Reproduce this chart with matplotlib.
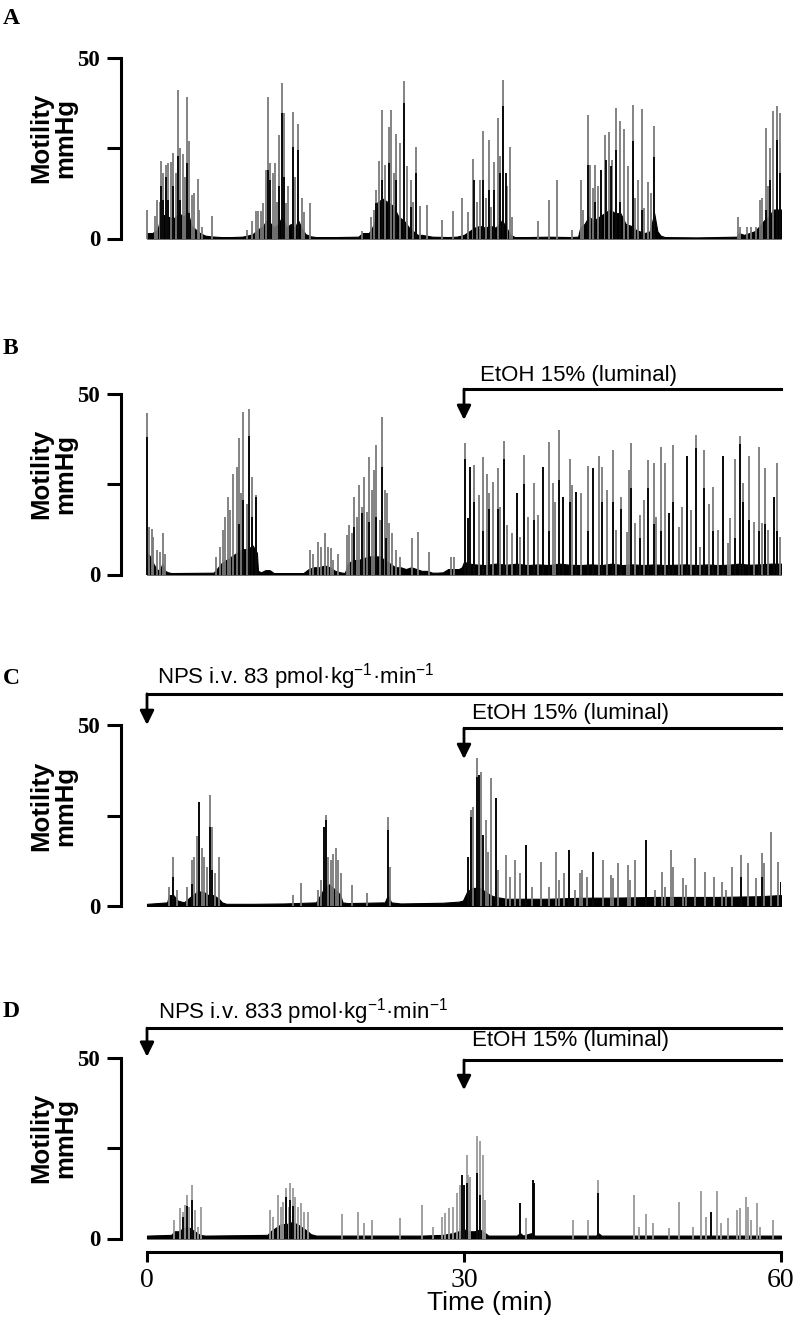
import matplotlib
matplotlib.use('Agg')
import matplotlib.pyplot as plt

plt.rcParams['font.family'] = ['Liberation Sans', 'DejaVu Sans']
plt.rcParams['mathtext.fontset'] = 'custom'
plt.rcParams['mathtext.rm'] = 'Liberation Sans'
plt.rcParams['mathtext.default'] = 'regular'

# ---------------- data (time in min, pressure in mmHg) ----------------
A_base = [(0, 1.5), (0.5, 1.5), (1.0, 2.5), (1.3, 6), (1.6, 6.5), (2.0, 6), (2.5, 5.5), (3.0, 7), (3.5, 6), (3.8, 8),
          (4.2, 3.5), (4.6, 2.5), (5.0, 1.5), (5.5, 0.8), (6.0, 0.6), (7.0, 0.4), (8.0, 0.4), (9.0, 0.5), (9.5, 0.8),
          (10.0, 1.2), (10.5, 2.5), (11.0, 3.5), (11.3, 5), (11.6, 4.5), (12.0, 3), (12.4, 4), (12.8, 6), (13.2, 3),
          (13.6, 4), (14.0, 3), (14.3, 5), (14.7, 2.5), (15.0, 1.2), (15.5, 0.6), (16.0, 0.4), (18.0, 0.4), (20.0, 0.5),
          (20.4, 1.5), (21.0, 1.5), (21.5, 4), (21.8, 10), (22.3, 11), (22.8, 10), (23.3, 9), (23.8, 6), (24.3, 5),
          (24.8, 3), (25.2, 2), (25.6, 1), (26.0, 1), (27.0, 0.5), (28.5, 0.4), (29.3, 0.5), (30.0, 1), (30.5, 2),
          (31.0, 3), (31.5, 3.5), (32.0, 3), (32.5, 3.5), (33.0, 3), (33.6, 5), (34.0, 3), (34.4, 1), (34.8, 0.4),
          (36, 0.4), (38, 0.5), (40.0, 0.4), (40.8, 0.5), (41.0, 3), (41.4, 4), (41.8, 6), (42.3, 5), (42.8, 6),
          (43.3, 7), (43.8, 8), (44.3, 7), (44.8, 7), (45.3, 4), (45.8, 3.5), (46.2, 2.5), (46.6, 2), (47.1, 1.5),
          (47.6, 2), (48.0, 7), (48.3, 2), (48.6, 0.8), (49.0, 0.4), (52, 0.3), (55.8, 0.5), (56.0, 1.5), (56.5, 1),
          (57.0, 1.5), (57.5, 2), (58.0, 3.5), (58.4, 5), (58.8, 6), (59.3, 8), (59.7, 8), (60.0, 8)]
A_spikes = [(0.03, 7.9), (0.76, 6.2), (0.98, 10.7), (1.23, 10.2), (1.32, 21.5), (1.55, 18), (1.77, 20.4), (2.02, 20.8),
            (2.27, 21), (2.49, 23.6), (2.71, 18), (2.97, 41.1), (3.15, 25), (3.38, 23.4), (3.6, 17.1), (3.79, 39.1),
            (3.97, 26.8), (4.23, 12), (4.45, 12.5), (4.83, 16.5), (4.95, 7.9), (5.2, 3.3), (6.12, 6.1),
            (9.46, 2.4), (9.9, 4.7), (10.3, 7.7), (10.5, 7.7), (10.8, 7.7), (11.0, 9.7), (11.23, 19), (11.45, 39.1),
            (11.64, 20.8), (11.9, 18), (12.15, 20.8), (12.33, 10.2), (12.52, 28.7), (12.74, 43), (12.93, 34.7),
            (13.15, 9.7), (13.37, 14.4), (13.78, 34.9), (14.0, 17.1), (14.32, 31.7), (14.64, 11.1), (14.86, 7.4),
            (15.43, 9.9), (20.3, 2), (21.2, 6), (21.5, 8), (21.7, 13.4), (22.0, 21.5), (22.2, 35.6), (22.5, 20.4),
            (22.9, 30.8), (23.1, 35.6), (23.35, 18), (23.6, 29), (23.94, 26.3), (24.32, 43.6), (24.57, 19.9),
            (24.95, 16.2), (25.14, 10.2), (25.46, 25.4), (25.84, 9), (26.47, 9.3), (27.9, 5.1), (29.0, 7.6),
            (29.84, 11.1), (30.4, 7.4), (30.83, 21.9), (31.2, 10.2), (31.5, 16.2), (31.83, 29.6), (32.1, 11.1),
            (32.33, 27.3), (32.6, 8.8), (32.87, 21), (33.25, 33.3), (33.4, 22.7), (33.66, 43.7), (34.04, 14.4),
            (34.4, 25.4), (34.5, 6), (37.0, 4.7), (38.04, 10.7), (38.77, 16.2), (40.25, 2.4),
            (41.07, 16.2), (41.3, 7.9), (41.77, 34.2), (41.93, 20.4), (42.18, 13.9), (42.4, 20.4), (42.65, 14.4),
            (42.97, 19), (43.35, 28.7), (43.76, 29.3), (43.98, 21.7), (44.35, 36.1), (44.76, 32.4), (45.17, 30.2),
            (45.55, 19.9), (45.96, 37), (46.18, 11.1), (46.5, 16.2), (46.88, 35.8), (47.07, 8.4), (47.42, 15.7),
            (47.67, 12.5), (48.01, 31), (55.9, 6), (56.1, 3.3), (56.75, 3.1), (57.2, 3.3), (57.6, 3.3), (58.0, 10.7),
            (58.2, 11.1), (58.58, 30.5), (58.8, 14.4), (59.0, 25), (59.2, 35.1), (59.66, 36.5), (59.9, 34.7)]
A_dark = [(1.32, 14.4), (1.55, 10.7), (1.8, 17.1), (2.02, 10.7), (2.49, 14.4), (2.97, 22.7), (3.15, 10.7),
          (3.79, 20.8), (3.97, 7), (11.45, 19), (11.64, 16.2), (12.52, 14.4), (12.74, 34.7), (12.93, 17.1),
          (13.78, 25.4), (14.32, 24.5), (21.7, 9.7), (22.2, 16.2), (22.9, 20.8), (23.6, 16.2), (24.32, 37.4),
          (24.95, 8.8), (25.46, 18), (30.95, 16.2), (31.77, 16.2), (32.4, 13.4), (32.87, 13.4), (33.4, 18),
          (33.72, 36.5), (34.0, 18), (41.77, 20.4), (42.4, 10), (42.97, 19), (43.4, 21.7), (43.9, 19.9),
          (44.35, 24.5), (44.8, 10), (45.96, 26.8), (46.88, 8), (48.01, 22.6), (58.58, 8), (59.0, 16.2),
          (59.66, 27.3), (59.9, 18)]

B_base = [(0, 6), (0.3, 5), (0.6, 3), (0.9, 1.5), (1.2, 1), (1.45, 3), (1.7, 1), (2.0, 0.6), (2.3, 0.4), (6.3, 0.5),
          (6.6, 1.5), (7.0, 3), (7.5, 4), (8.0, 5), (8.5, 6), (9.0, 7), (9.5, 7), (10.0, 8), (10.4, 6), (10.5, 1),
          (10.8, 0.6), (11.2, 1.2), (11.6, 1.2), (12.0, 0.4), (14.8, 0.4), (15.3, 1.5), (15.8, 2), (16.3, 2),
          (16.8, 2.5), (17.3, 2), (17.8, 1), (18.3, 0.6), (18.7, 0.4), (18.8, 1), (19.0, 3), (19.5, 4), (20, 4),
          (20.5, 4.5), (21, 5), (21.5, 5), (22, 5), (22.5, 4), (23, 3), (23.5, 2), (24, 2), (24.5, 1.5), (25, 2),
          (25.5, 1.5), (26, 1), (26.5, 1), (27, 0.5), (27.5, 0.5), (28, 0.6), (28.5, 1.5), (29, 1.5), (29.5, 1.5),
          (29.8, 2), (30.0, 3.5), (30.5, 3), (31, 2.8), (32, 2.6), (33, 3), (34, 2.7), (35, 3), (36, 2.6), (37, 2.8),
          (38, 2.6), (39, 3), (40, 2.7), (41, 2.6), (42, 2.8), (43, 2.6), (44, 3), (45, 2.6), (46, 2.8), (47, 2.6),
          (48, 2.8), (49, 2.6), (50, 2.7), (51, 2.8), (52, 2.6), (53, 2.8), (54, 2.6), (55, 2.7), (56, 3), (57, 2.7),
          (58, 2.8), (59, 3), (60, 3)]
B_spikes = [(0.0, 44.5), (0.22, 13.2), (0.44, 12.7), (0.6, 10.4), (0.9, 6.8), (1.2, 6.3), (1.48, 11.4), (1.7, 5.8),
            (6.53, 4.9), (6.9, 7.7), (7.16, 12.3), (7.4, 16), (7.7, 21.5), (7.86, 17.8), (8.17, 27.9), (8.49, 29.8),
            (8.68, 37.6), (8.86, 22.4), (9.12, 44.9), (9.43, 19.6), (9.68, 45.7), (9.94, 27), (10.32, 21.9),
            (15.43, 6.8), (15.74, 5.8), (16.2, 9.1), (16.5, 7.7), (16.85, 11.4), (17.16, 7.7), (17.4, 7.2), (17.6, 4),
            (18.1, 5.8), (18.9, 10.9), (19.15, 13.7), (19.37, 11.4), (19.62, 21.5), (19.84, 16), (20.06, 24.7),
            (20.3, 18.7), (20.5, 27), (20.8, 17.3), (21.0, 32.5), (21.26, 23.3), (21.5, 28.8), (21.7, 35.7),
            (22.05, 15), (22.27, 43.5), (22.5, 23.3), (22.68, 22.4), (22.93, 14.1), (23.15, 11.4), (23.6, 6.8),
            (23.95, 4.9), (25.05, 10), (25.6, 11.8), (26.7, 6.3), (28.8, 4.9), (29.1, 4.9),
            (30.1, 36.2), (30.4, 15.5), (30.6, 29.7), (30.95, 30.2), (31.45, 21.9), (31.83, 32.5), (32.2, 27.9),
            (32.4, 22.4), (32.7, 25.6), (33.2, 29.3), (33.4, 18.7), (33.8, 36.8), (34.1, 13.7), (34.5, 11.4),
            (35.05, 22.4), (35.3, 10.4), (35.7, 33), (36.1, 16), (36.6, 25.2), (37.0, 16.4), (37.5, 29.8), (38.0, 36.7),
            (38.4, 25.2), (38.6, 20.1), (39.0, 39.9), (39.4, 21.5), (40.0, 31.8), (40.2, 24.7), (40.6, 22.9),
            (41.1, 22.4), (41.7, 29.9), (42.2, 29.3), (42.8, 32.7), (43.1, 29.8), (43.5, 23.3), (44.07, 34.4),
            (44.4, 12.3), (44.9, 21.5), (45.4, 11.8), (45.65, 28.8), (45.8, 36.2), (46.2, 14.1), (46.66, 16.4),
            (47.07, 20.6), (47.45, 31.6), (48.0, 30.7), (48.2, 16), (48.65, 35.3), (49.0, 30.7), (49.4, 16.9),
            (49.8, 35.7), (50.3, 13.2), (50.6, 18.7), (51.07, 32.7), (51.45, 17.8), (51.96, 38.5), (52.3, 7.7),
            (52.7, 34.4), (53.2, 19.6), (53.6, 24.2), (54.07, 12.3), (54.5, 32.7), (55.0, 8.6), (55.2, 15.5),
            (55.65, 32), (56.1, 38.2), (56.4, 25.2), (57.0, 32.7), (57.4, 14.6), (57.9, 35.3), (58.2, 14.1),
            (58.5, 29.3), (58.8, 12.3), (59.3, 21.5), (59.6, 30.7), (59.9, 10.4)]
B_dark = [(0.0, 38), (8.68, 14), (9.12, 20.5), (9.68, 38.2), (9.94, 15.9), (10.32, 21.5), (19.62, 13.2), (20.3, 16.9),
          (21.0, 14.6), (21.7, 16), (22.27, 29.8), (22.6, 10), (30.1, 32), (30.4, 15.5), (30.6, 29.7), (30.95, 20),
          (31.83, 12), (32.4, 18), (33.2, 18), (33.8, 32), (35.05, 22.4), (35.7, 25), (36.6, 15), (37.5, 29.8),
          (38.0, 12), (39.0, 26), (39.4, 21.5), (40.0, 20), (40.6, 22.9), (41.7, 12), (42.2, 29.3), (43.1, 20),
          (44.07, 20), (44.9, 18), (45.8, 24), (46.66, 10), (47.45, 24), (48.0, 14), (48.65, 12), (49.4, 16.9),
          (49.8, 20), (51.07, 32.7), (51.96, 35), (52.7, 24), (53.6, 12), (54.5, 32.7), (55.65, 10), (56.1, 36),
          (56.4, 20), (57.0, 15), (57.9, 12), (58.5, 14), (59.3, 21.5), (59.6, 12)]

C_base = [(0, 0.6), (1, 0.8), (1.9, 1), (2.1, 3), (2.5, 3), (2.9, 1.5), (3.5, 1), (3.9, 2), (4.3, 3), (4.8, 4), (5.3, 4),
          (5.8, 3), (6.3, 3), (6.8, 2), (7.1, 1), (7.5, 0.6), (10, 0.6), (13, 0.7), (16.0, 1), (16.4, 3), (16.8, 5),
          (17.2, 6), (17.6, 5), (18.0, 4), (18.3, 3), (18.5, 1), (19, 0.8), (22.5, 1), (22.8, 3), (23.1, 1), (24, 0.7),
          (26, 0.8), (28, 0.9), (29.5, 1.2), (29.9, 1.5), (30.3, 4), (30.8, 5), (31.5, 5), (32, 4), (32.5, 3),
          (33, 2.5), (34, 2), (36, 2), (38, 2), (40, 2.2), (42, 2.3), (44, 2.3), (46, 2.4), (48, 2.5), (50, 2.5),
          (52, 2.5), (54, 2.5), (56, 2.6), (58, 2.7), (59.8, 3), (60, 3)]
C_spikes = [(2.08, 5.3), (2.5, 13.6), (2.8, 4.4), (3.8, 5.3), (4.3, 12.7), (4.48, 13.6), (4.7, 19.2), (4.92, 28.8),
            (5.17, 15.9), (5.43, 13.6), (5.65, 10.9), (5.96, 30.7), (6.18, 21.9), (6.43, 9), (6.8, 13.6),
            (13.85, 3), (14.6, 6.3), (16.2, 4.4), (16.5, 7.2), (16.75, 21.9), (16.94, 25.1), (17.16, 13.6),
            (17.4, 12.7), (17.6, 14.5), (17.85, 15.9), (18.1, 12.7), (18.33, 9), (19.37, 5.8), (20.8, 3.5),
            (22.84, 24.7), (23.0, 10.9), (30.4, 13.6), (30.63, 26.5), (30.82, 27.4), (31.2, 40.8), (31.43, 36.2),
            (31.6, 37.1), (31.8, 19.6), (32.05, 23.8), (32.3, 15), (32.6, 35.3), (33.0, 29.7), (33.25, 9.9),
            (33.98, 14.1), (34.4, 8.1), (34.8, 12.7), (35.3, 9), (35.9, 16.9), (36.4, 5.3), (37.3, 12.2), (38.0, 5.3),
            (38.7, 15), (39.0, 7.2), (39.5, 9), (39.9, 15.5), (40.5, 4.4), (41.0, 9), (41.2, 9.9), (41.6, 8.1),
            (42.2, 15), (43.2, 12.7), (43.9, 8.6), (44.07, 7.6), (44.6, 11.8), (45.56, 11.3), (45.7, 7.2),
            (46.2, 12.7), (47.2, 18.2), (48.07, 4.4), (48.7, 9.5), (49.0, 5.3), (49.56, 15.5), (49.8, 10.9),
            (50.7, 7.6), (51.0, 5.8), (51.86, 13.2), (52.8, 9.5), (53.7, 8.1), (54.45, 6.7), (54.8, 4.4),
            (55.4, 10.9), (56.2, 14.1), (56.9, 11.8), (57.6, 7.6), (58.2, 14.7), (58.4, 11.8), (59.1, 20.4),
            (59.75, 12.2), (59.97, 6.7)]
C_dark = [(2.5, 8.1), (4.3, 6), (4.92, 28.8), (5.96, 21.9), (6.18, 10), (16.75, 21.9), (16.94, 23.7), (22.84, 21),
          (30.4, 13.6), (30.63, 24.7), (31.2, 35.7), (31.43, 36.2), (31.8, 19.6), (33.0, 29.7), (35.9, 16.9),
          (39.9, 15.5), (42.2, 15), (47.2, 18.2), (56.2, 8), (58.2, 8), (59.97, 6.7)]

D_base = [(0, 0.8), (2.3, 1), (2.6, 2), (3.0, 2), (3.5, 3), (4.0, 3), (4.5, 2), (5.0, 1), (5.5, 0.8), (11.4, 1),
          (11.7, 2), (12.2, 3), (12.7, 4), (13.2, 4), (13.7, 4.5), (14.2, 4), (14.7, 3), (15.2, 2), (15.5, 1.2),
          (16, 0.8), (24, 0.8), (26, 0.8), (28, 1.0), (29, 1.5), (29.5, 2), (30, 2.5), (30.5, 2), (31, 2), (31.5, 2.5),
          (32, 1.5), (32.3, 0.8), (35, 0.8), (35.3, 1.5), (35.6, 0.8), (36.4, 1.5), (36.7, 0.8), (42.5, 0.8),
          (42.7, 1.5), (43, 0.8), (60, 0.8)]
D_spikes = [(2.55, 5.1), (3.12, 8.3), (3.38, 7.4), (3.6, 9.3), (3.82, 12), (4.0, 8.8), (4.23, 14.8), (4.54, 7.9),
            (4.86, 3.3), (5.1, 8.8), (11.64, 7.9), (11.96, 6), (12.43, 12), (12.65, 8.8), (12.9, 10.2), (13.12, 13.9),
            (13.4, 8.8), (13.53, 15.4), (13.8, 13.9), (14.0, 11.6), (14.26, 8.8), (14.57, 9.7), (14.86, 7.4),
            (15.27, 7.4), (18.42, 6.9), (20.0, 7.4), (20.5, 4.2), (21.26, 5.1), (23.94, 5.6), (26.0, 9.3), (27.1, 3.3),
            (27.9, 6), (28.2, 7), (28.6, 8.3), (29.0, 8.8), (29.3, 12.5), (29.6, 14.8), (29.8, 17.6), (30.0, 14.8),
            (30.25, 23.1), (30.4, 17.6), (30.6, 17.1), (31.26, 28.2), (31.5, 26.8), (31.77, 23.1), (32.0, 10.6),
            (35.3, 9.7), (35.9, 5.6), (36.5, 16.2), (36.6, 15.2), (40.3, 5.1), (41.77, 5.1), (42.7, 16.2),
            (46.1, 12), (46.6, 3.3), (47.2, 6.9), (47.85, 4.2), (49.4, 2.8), (50.3, 10.2), (51.7, 3.3), (52.4, 13.2),
            (52.9, 6), (53.4, 7.4), (53.9, 13.2), (54.3, 4.2), (55.0, 5.6), (55.8, 7.9), (56.1, 8.3), (56.7, 11.6),
            (56.9, 8.8), (57.2, 5.1), (57.7, 9.7), (58.0, 3.3), (59.2, 5.1)]
D_dark = [(3.38, 6), (3.82, 9), (4.23, 10.6), (13.12, 11.6), (13.53, 10.6), (13.8, 9), (29.8, 17.6), (30.0, 14.8),
          (30.25, 15.2), (31.26, 18), (31.5, 12), (35.3, 9.7), (36.5, 16.2), (36.6, 15.2), (42.7, 12.5), (53.4, 7.4)]

y_ticks = [0, 25, 50]
y_ticklabels = ['0', '', '50']
x_ticks = [0, 30, 60]
x_ticklabels = ['0', '30', '60']
ylabel = 'Motility\nmmHg'
xlabel = 'Time (min)'
etoh_label = 'EtOH 15% (luminal)'
nps_labels = {'C': 'NPS i.v. 83 pmol·kg$^{-1}$·min$^{-1}$',
              'D': 'NPS i.v. 833 pmol·kg$^{-1}$·min$^{-1}$'}

# ---------------- layout ----------------
W, H = 800, 1329
fig = plt.figure(figsize=(W / 100, H / 100), dpi=100)
SPAN = 181.0          # pixels for 50 mmHg
X0, X1 = 121, 781     # axes left (spine) and right pixel
XMIN = -(147 - X0) / ((781 - 147) / 60.0)

panels = [
    ('A', 238.5, A_base, A_spikes, A_dark, '#7a7a7a'),
    ('B', 574.5, B_base, B_spikes, B_dark, '#7a7a7a'),
    ('C', 906.0, C_base, C_spikes, C_dark, '#7a7a7a'),
    ('D', 1238.5, D_base, D_spikes, D_dark, '#999999'),
]
letter_top = {'A': 8, 'B': 338, 'C': 668, 'D': 1001}

def unzip(pairs):
    return [p[0] for p in pairs], [p[1] for p in pairs]

def bracket(ax, t0, y_line, y_tip, label, tx, ty):
    ax.plot([t0, 60], [y_line, y_line], color='k', lw=2.2, solid_capstyle='projecting', clip_on=False)
    ax.annotate('', xy=(t0, y_tip), xytext=(t0, y_line),
                arrowprops=dict(arrowstyle='-|>,head_width=0.42,head_length=0.85', color='k', lw=2.0,
                                shrinkA=0, shrinkB=0),
                annotation_clip=False)
    ax.text(tx, ty, label, fontsize=16, ha='left', va='center', clip_on=False)

axes = {}
for name, zero_px, base, spikes, dark, gcol in panels:
    ax = fig.add_axes([X0 / W, 1 - zero_px / H, (X1 - X0) / W, SPAN / H])
    axes[name] = ax
    bt, bh = unzip(base)
    st, sh = unzip(spikes)
    dt, dh = unzip(dark)
    ax.vlines(st, 0, sh, color=gcol, lw=1.3)
    ax.vlines(dt, 0, dh, color='black', lw=1.3)
    ax.fill_between(bt, 0, bh, color='black', lw=0.8, edgecolor='black')
    ax.set_xlim(XMIN, 60)
    ax.set_ylim(0, 50)
    for s in ['top', 'right']:
        ax.spines[s].set_visible(False)
    ax.spines['left'].set_bounds(0, 50)
    ax.spines['left'].set_linewidth(2.2)
    ax.set_yticks(y_ticks)
    ax.set_yticklabels(y_ticklabels, family='Liberation Serif', fontsize=16.5, fontweight='bold')
    ax.tick_params(axis='y', direction='out', length=10, width=2.2, pad=5)
    if name == 'D':
        ax.spines['bottom'].set_position(('outward', 10))
        ax.spines['bottom'].set_bounds(0, 60)
        ax.spines['bottom'].set_linewidth(2.2)
        ax.set_xticks(x_ticks)
        ax.set_xticklabels(x_ticklabels, family='Liberation Serif', fontsize=20)
        ax.tick_params(axis='x', direction='out', length=7.5, width=2.2, pad=4)
    else:
        ax.spines['bottom'].set_visible(False)
        ax.set_xticks([])
    # y label
    fig.text(53 / W, 1 - (zero_px - 100.5) / H, ylabel, rotation=90, ha='center', va='center',
             fontsize=18.5, fontweight='bold', linespacing=1.0, multialignment='center')
    fig.text(3 / W, 1 - letter_top[name] / H, name, family='Liberation Serif', fontweight='bold',
             fontsize=17, ha='left', va='top')

# annotations
bracket(axes['B'], 30, 51.2, 42.7, etoh_label, 31.5, 55.0)
bracket(axes['C'], 0, 58.6, 50.0, nps_labels['C'], 0.95, 63.3)
bracket(axes['C'], 30, 49.1, 40.6, etoh_label, 30.75, 53.3)
bracket(axes['D'], 0, 58.1, 50.2, nps_labels['D'], 1.0, 62.6)
bracket(axes['D'], 30, 49.3, 41.0, etoh_label, 30.75, 54.6)

fig.text(490 / W, 1 - 1303 / H, xlabel, ha='center', va='center', fontsize=19)

fig.savefig('out.png', dpi=100)
